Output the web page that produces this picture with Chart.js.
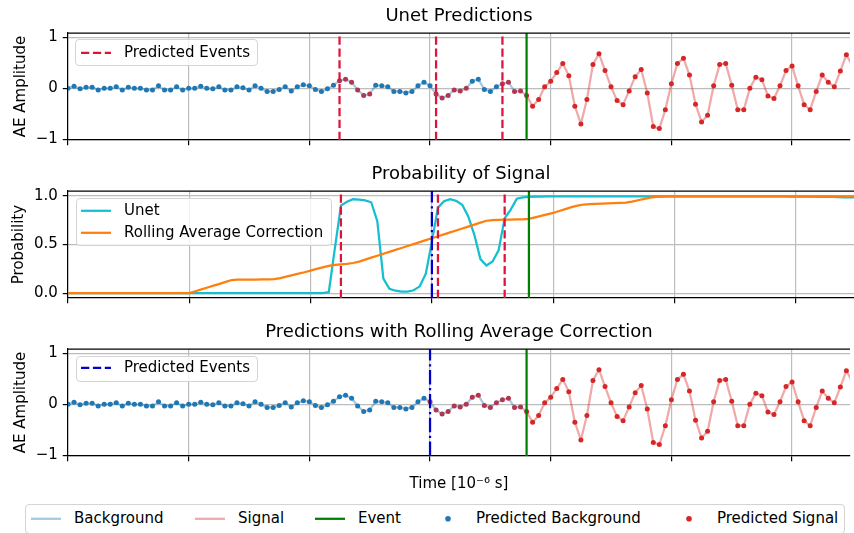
<!DOCTYPE html>
<html>
<head>
<meta charset="utf-8">
<script src="https://cdn.jsdelivr.net/npm/chart.js@4.4.0/dist/chart.umd.min.js"></script>
<style>
  body { margin: 0; background: #fff; overflow: hidden; }
  #fig { position: relative; width: 854px; height: 533px; overflow: hidden; font-family: 'DejaVu Sans', sans-serif; font-size: 15px; color: #000; }
  canvas { position: absolute; left: 0; }
  .box { position: absolute; box-sizing: border-box; background: rgba(255,255,255,0.8); border: 1px solid #d4d4d4; border-radius: 4px; }
  .item { position: absolute; display: flex; align-items: center; height: 18px; line-height: 18px; white-space: nowrap; }
  .item span { margin-left: 13px; }
  .item svg { display: block; }
</style>
</head>
<body>
<div id="fig">
  <canvas id="unetChart" width="854" height="155" style="top:0px"></canvas>
  <canvas id="probChart" width="854" height="155" style="top:158px"></canvas>
  <canvas id="rollChart" width="854" height="177" style="top:316px"></canvas>

  <div class="box" style="left:75px;top:39px;width:183px;height:27px"></div>
  <div class="item" style="left:81px;top:42.5px"><svg width="30" height="18"><line x1="0" y1="9.8" x2="30" y2="9.8" stroke="#dc143c" stroke-width="2.25" stroke-dasharray="8.3 3.6"/></svg><span>Predicted Events</span></div>

  <div class="box" style="left:76px;top:197.5px;width:256px;height:48.5px"></div>
  <div class="item" style="left:81px;top:200.5px"><svg width="30" height="18"><line x1="0" y1="9.8" x2="30" y2="9.8" stroke="#17becf" stroke-width="2.25"/></svg><span>Unet</span></div>
  <div class="item" style="left:81px;top:222.5px"><svg width="30" height="18"><line x1="0" y1="9.8" x2="30" y2="9.8" stroke="#ff7f0e" stroke-width="2.25"/></svg><span>Rolling Average Correction</span></div>

  <div class="box" style="left:76px;top:355.5px;width:182px;height:26.5px"></div>
  <div class="item" style="left:81px;top:358px"><svg width="30" height="18"><line x1="0" y1="9.8" x2="30" y2="9.8" stroke="mediumblue" stroke-width="2.25" stroke-dasharray="8.3 3.6"/></svg><span>Predicted Events</span></div>

  <div class="box" style="left:25px;top:503.5px;width:820px;height:30px"></div>
  <div class="item" style="left:31px;top:508.5px"><svg width="30" height="18"><line x1="0" y1="9.8" x2="30" y2="9.8" stroke="rgba(31,119,180,0.4)" stroke-width="2.25"/></svg><span>Background</span></div>
  <div class="item" style="left:195px;top:508.5px"><svg width="30" height="18"><line x1="0" y1="9.8" x2="30" y2="9.8" stroke="rgba(214,39,40,0.4)" stroke-width="2.25"/></svg><span>Signal</span></div>
  <div class="item" style="left:315px;top:508.5px"><svg width="30" height="18"><line x1="0" y1="9.8" x2="30" y2="9.8" stroke="green" stroke-width="2.25"/></svg><span>Event</span></div>
  <div class="item" style="left:433px;top:508.5px"><svg width="30" height="18"><circle cx="15" cy="9.8" r="2.8" fill="#1f77b4"/></svg><span>Predicted Background</span></div>
  <div class="item" style="left:674px;top:508.5px"><svg width="30" height="18"><circle cx="15" cy="9.8" r="2.8" fill="#d62728"/></svg><span>Predicted Signal</span></div>
</div>

<script>
// AE amplitude per sample (index = time sample)
const amplitude = [
  0, 0.04, -0.01, 0.02, 0.02, -0.03, 0, 0, 0.03, -0.03,
  0.02, 0, 0, -0.03, -0.03, 0.05, -0.03, -0.03, 0.03, -0.03,
  0, 0, 0.04, 0, -0.01, 0.03, -0.03, -0.03, 0.03, 0.01,
  -0.03, 0.05, 0, -0.06, -0.06, -0.02, 0.03, -0.05, 0.03, 0.07,
  0.05, -0.02, -0.06, -0.01, 0.06, 0.15, 0.18, 0.12, -0.03, -0.14,
  -0.11, 0.06, 0.05, 0.03, -0.06, -0.06, -0.09, -0.06, 0.05, 0.12,
  0.05, -0.11, -0.19, -0.14, -0.03, -0.05, 0, 0.14, 0.18, -0.02,
  -0.06, 0.03, 0.09, 0.12, -0.06, -0.05, -0.14, -0.35, -0.22, 0.03,
  0.14, 0.31, 0.49, 0.25, -0.35, -0.70, -0.22, 0.47, 0.68, 0.35,
  0.03, -0.24, -0.32, -0.05, 0.23, 0.37, -0.09, -0.75, -0.79, -0.42,
  0.09, 0.49, 0.59, 0.26, -0.31, -0.66, -0.53, 0.05, 0.47, 0.49,
  0.06, -0.42, -0.42, 0, 0.22, 0.17, -0.15, -0.20, 0.05, 0.35,
  0.44, 0.05, -0.32, -0.42, -0.06, 0.26, 0.12, 0.03, 0.34, 0.66,
  0.44, 0.10
];

const unetProb = [
  0, 0, 0, 0, 0, 0, 0, 0, 0, 0,
  0, 0, 0, 0, 0, 0, 0, 0, 0, 0,
  0, 0, 0, 0, 0, 0, 0, 0, 0, 0,
  0, 0, 0, 0, 0, 0, 0, 0, 0, 0,
  0, 0, 0, 0.01, 0.46, 0.90, 0.94, 0.966, 0.962, 0.955,
  0.935, 0.74, 0.15, 0.045, 0.025, 0.015, 0.015, 0.03, 0.07, 0.2,
  0.53, 0.88, 0.945, 0.966, 0.95, 0.91, 0.79, 0.6, 0.35, 0.285,
  0.325, 0.44, 0.77, 0.86, 0.972, 0.986, 0.99, 0.993, 0.994, 0.995,
  0.996, 0.996, 0.996, 0.997, 0.997, 0.997, 0.997, 0.997, 0.997, 0.997,
  0.997, 0.996, 0.996, 0.996, 0.996, 0.996, 0.996, 0.996, 0.997, 0.997,
  0.997, 0.997, 0.997, 0.997, 0.997, 0.996, 0.996, 0.996, 0.996, 0.995,
  0.995, 0.995, 0.995, 0.996, 0.996, 0.996, 0.996, 0.996, 0.995, 0.994,
  0.993, 0.993, 0.992, 0.992, 0.991, 0.99, 0.99, 0.988, 0.986, 0.985,
  0.984, 0.984
];

const rollingProb = [
  0, 0, 0, 0, 0, 0, 0, 0, 0, 0,
  0, 0, 0, 0, 0, 0, 0, 0, 0, 0,
  0, 0.019, 0.039, 0.058, 0.077, 0.096, 0.116, 0.135, 0.138, 0.139,
  0.14, 0.14, 0.141, 0.142, 0.145, 0.155, 0.17, 0.185, 0.2, 0.215,
  0.232, 0.25, 0.266, 0.28, 0.29, 0.297, 0.302, 0.31, 0.325, 0.345,
  0.365, 0.385, 0.405, 0.425, 0.445, 0.465, 0.485, 0.505, 0.525, 0.545,
  0.565, 0.585, 0.605, 0.625, 0.645, 0.665, 0.685, 0.705, 0.725, 0.745,
  0.752, 0.755, 0.756, 0.757, 0.758, 0.76, 0.765, 0.78, 0.795, 0.81,
  0.825, 0.845, 0.865, 0.885, 0.9, 0.912, 0.916, 0.919, 0.921, 0.923,
  0.925, 0.928, 0.932, 0.942, 0.956, 0.97, 0.982, 0.99, 0.994, 0.995,
  0.996, 0.996, 0.997, 0.997, 0.997, 0.997, 0.997, 0.997, 0.997, 0.997,
  0.997, 0.997, 0.997, 0.997, 0.997, 0.997, 0.997, 0.997, 0.997, 0.997,
  0.997, 0.997, 0.996, 0.996, 0.996, 0.996, 0.996, 0.996, 0.995, 0.995,
  0.995, 0.995
];

const eventIndex = 76;                                   // true event onset
const unetSignalRanges = [[45, 50], [61, 66], [72, 131]]; // samples the Unet labels as signal
const rollingSignalRanges = [[60, 131]];                  // after rolling average correction
const xTicks = [0, 20, 40, 60, 80, 100, 120];
const ampTicks = [-1, 0, 1];
const probTicks = [0, 0.5, 1];

const X_MAX = 129.6;
const AMP_RANGE = [-1.014, 1.085];
const PROB_RANGE = [-0.05, 1.05];

const BLUE = '#1f77b4';
const RED = '#d62728';
const MAUVE = '#b3354f';
const GRID = '#bdbdbd';

Chart.defaults.font.family = "'DejaVu Sans', sans-serif";
Chart.defaults.font.size = 15;
Chart.defaults.color = '#000';

const xy = (arr, start = 0) => arr.map((v, i) => ({ x: start + i, y: v }));

function pointColors(ranges) {
  return amplitude.map((_, i) => {
    const predSignal = ranges.some(([a, b]) => i >= a && i <= b);
    if (!predSignal) return BLUE;
    return i >= eventIndex ? RED : MAUVE;
  });
}

function vline(x, range, color, dash, order) {
  return {
    data: [{ x: x, y: range[0] }, { x: x, y: range[1] }],
    borderColor: color, borderWidth: 2.25, borderDash: dash,
    pointRadius: 0, order: order
  };
}

function signalDatasets(ranges) {
  return [
    { data: xy(amplitude), showLine: false, pointRadius: 2.5, pointBorderWidth: 0,
      pointBackgroundColor: pointColors(ranges), pointBorderColor: pointColors(ranges), order: 2 },
    { data: xy(amplitude.slice(0, eventIndex + 1)), borderColor: 'rgba(31,119,180,0.4)',
      borderWidth: 2.25, pointRadius: 0, borderJoinStyle: 'round', order: 3 },
    { data: xy(amplitude.slice(eventIndex), eventIndex), borderColor: 'rgba(214,39,40,0.4)',
      borderWidth: 2.25, pointRadius: 0, borderJoinStyle: 'round', order: 3 }
  ];
}

const topSpine = {
  id: 'topSpine',
  afterDatasetsDraw(chart) {
    const { ctx, chartArea: a } = chart;
    ctx.save();
    ctx.strokeStyle = '#000';
    ctx.lineWidth = 1.2;
    ctx.beginPath();
    ctx.moveTo(a.left, a.top);
    ctx.lineTo(a.right, a.top);
    ctx.stroke();
    ctx.restore();
  }
};

function makeChart(id, opts) {
  return new Chart(document.getElementById(id), {
    type: 'line',
    data: { datasets: opts.datasets },
    plugins: [topSpine],
    options: {
      responsive: false,
      animation: false,
      events: [],
      layout: { padding: 0 },
      plugins: {
        legend: { display: false },
        tooltip: { enabled: false },
        title: {
          display: true, text: opts.title, fullSize: false, color: '#000',
          font: { size: 18, weight: 'normal', lineHeight: 1.2 },
          padding: { top: 6, bottom: 5.5 }
        }
      },
      scales: {
        x: {
          type: 'linear', min: 0, max: X_MAX,
          afterBuildTicks: s => { s.ticks = xTicks.map(v => ({ value: v })); },
          ticks: { display: false },
          grid: { color: GRID, lineWidth: 1.2, tickColor: '#000', tickLength: 5.25, tickWidth: 1.2 },
          border: { color: '#000', width: 1.2 },
          title: { display: !!opts.xTitle, text: opts.xTitle || '', color: '#000',
                   font: { size: 15 }, padding: 0 },
          afterFit: s => { s.height = opts.xHeight; }
        },
        y: {
          min: opts.yRange[0], max: opts.yRange[1],
          afterBuildTicks: s => { s.ticks = opts.yTicks.map(v => ({ value: v })); },
          ticks: { color: '#000', padding: 5, font: { size: 15 }, callback: opts.fmt },
          grid: { color: GRID, lineWidth: 1.2, tickColor: '#000', tickLength: 5.25, tickWidth: 1.2 },
          border: { color: '#000', width: 1.2 },
          title: { display: true, text: opts.yTitle, color: '#000', font: { size: 15 },
                   padding: { top: opts.yTitlePad, bottom: 0 } },
          afterFit: s => { s.width = 68; }
        }
      }
    }
  });
}

const fmtAmp = v => (v < 0 ? '\u2212' + Math.abs(v) : String(v));
const fmtProb = v => v.toFixed(1);

const unetEvents = unetSignalRanges.map(r => r[0]);
const rollingEvents = rollingSignalRanges.map(r => r[0]);

makeChart('unetChart', {
  title: 'Unet Predictions',
  yTitle: 'AE Amplitude', yTitlePad: 12,
  yRange: AMP_RANGE, yTicks: ampTicks, fmt: fmtAmp, xHeight: 15,
  datasets: [
    vline(eventIndex, AMP_RANGE, 'green', [], 0),
    ...unetEvents.map(x => vline(x, AMP_RANGE, '#dc143c', [8.3, 3.6], 1)),
    ...signalDatasets(unetSignalRanges)
  ]
});

makeChart('probChart', {
  title: 'Probability of Signal',
  yTitle: 'Probability', yTitlePad: 10.5,
  yRange: PROB_RANGE, yTicks: probTicks, fmt: fmtProb, xHeight: 15,
  datasets: [
    vline(eventIndex, PROB_RANGE, 'green', [], 0),
    ...rollingEvents.map(x => vline(x, PROB_RANGE, 'mediumblue', [14.4, 3.6, 2.25, 3.6], 1)),
    ...unetEvents.map(x => vline(x, PROB_RANGE, '#dc143c', [8.3, 3.6], 1)),
    { data: xy(rollingProb), borderColor: '#ff7f0e', borderWidth: 2.25, pointRadius: 0, order: 2 },
    { data: xy(unetProb), borderColor: '#17becf', borderWidth: 2.25, pointRadius: 0, order: 3 }
  ]
});

makeChart('rollChart', {
  title: 'Predictions with Rolling Average Correction',
  yTitle: 'AE Amplitude', yTitlePad: 12,
  yRange: AMP_RANGE, yTicks: ampTicks, fmt: fmtAmp, xHeight: 37,
  xTitle: 'Time [10\u207B\u2076 s]',
  datasets: [
    vline(eventIndex, AMP_RANGE, 'green', [], 0),
    ...rollingEvents.map(x => vline(x, AMP_RANGE, 'mediumblue', [14.4, 3.6, 2.25, 3.6], 1)),
    ...signalDatasets(rollingSignalRanges)
  ]
});
</script>
</body>
</html>
